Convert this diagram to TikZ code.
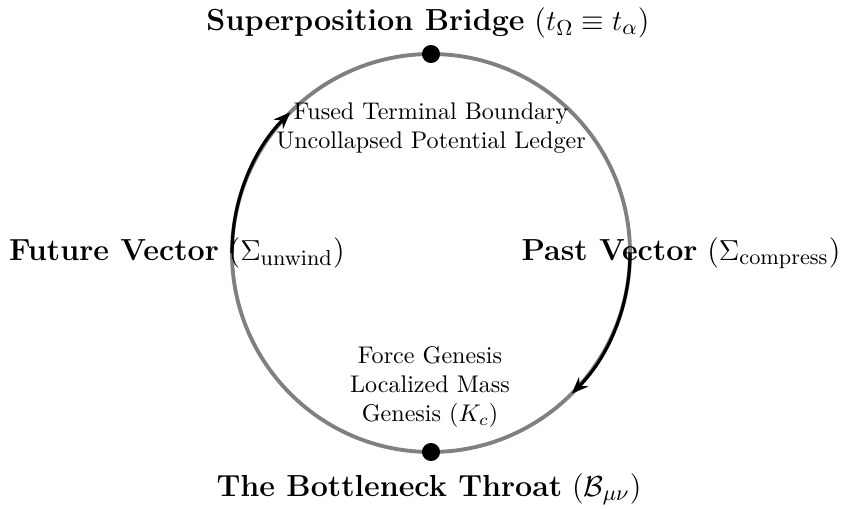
\documentclass[tikz,border=0pt]{standalone}
\usetikzlibrary{arrows.meta}
\begin{document}
\begin{tikzpicture}[x=0.415pt,y=-0.415pt,
  ring/.style={draw=gray,line width=1.6pt},
  flow/.style={draw=black,line width=1.3pt,-{Stealth[length=7pt,width=5.5pt]}},
  dot/.style={circle,fill=black,inner sep=0pt,minimum size=7.5pt},
  big/.style={font=\fontsize{12.64}{15}\selectfont,inner sep=0pt},
  inner/.style={align=center,inner sep=0pt}]
\useasboundingbox (0,0) rectangle (842,508);
\coordinate (c) at (431,253);
\draw[ring] (c) circle[radius=199];
\path (c) ++(0:199) coordinate (rs);
\path (c) ++(180:199) coordinate (ls);
\draw[flow] (rs) arc[start angle=0,end angle=45,radius=199];
\draw[flow] (ls) arc[start angle=180,end angle=225,radius=199];
\node[dot] (top) at (431,54) {};
\node[dot] (bot) at (431,452) {};
\node[big] (tl) at (428,23) {\textbf{Superposition Bridge} ($t_\Omega \equiv t_\alpha$)};
\node[big] (bl) at (429,489) {\textbf{The Bottleneck Throat} ($\mathcal{B}_{\mu\nu}$)};
\node[big] (ll) at (177,253) {\textbf{Future Vector} ($\Sigma_{\mathrm{unwind}}$)};
\node[big] (rl) at (681,253) {\textbf{Past Vector} ($\Sigma_{\mathrm{compress}}$)};
\node[inner] (ti) at (431,128) {Fused Terminal Boundary\\Uncollapsed Potential Ledger};
\node[inner] (bi) at (430,387) {Force Genesis\\Localized Mass\\Genesis ($K_c$)};
\end{tikzpicture}
\end{document}
